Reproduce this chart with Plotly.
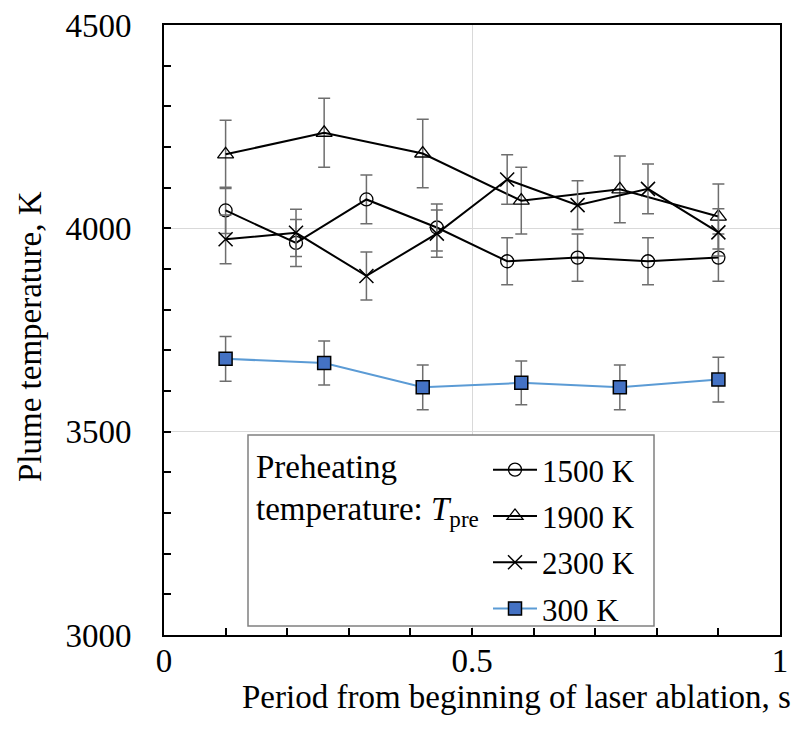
import plotly.graph_objects as go

# ---- data ----
x8 = [0.1, 0.2143, 0.3286, 0.4429, 0.5571, 0.6714, 0.7857, 0.9]
x6 = [0.1, 0.26, 0.42, 0.58, 0.74, 0.9]

t1500 = [4044, 3964, 4071, 4002, 3919, 3928, 3919, 3928]
e1500 = [57, 58, 60, 58, 58, 58, 58, 58]

t1900 = [4182, 4235, 4184, 4068, 4096, 4029]
e1900 = [84, 85, 84, 82, 82, 80]

t2300 = [3973, 3989, 3883, 3987, 4120, 4057, 4097, 3990]
e2300 = [60, 58, 59, 58, 61, 60, 61, 58]

t300 = [3679, 3669, 3609, 3620, 3609, 3628]
e300 = [55, 54, 55, 54, 55, 55]

names = ["1500 K", "1900 K", "2300 K", "300 K"]

FONT = "Liberation Serif"
ERRC = "#6e6e6e"
FS = 33

fig = go.Figure()

def err(e):
    return dict(type="data", array=e, visible=True, color=ERRC, thickness=1.5, width=6)

fig.add_trace(go.Scatter(
    x=x8, y=t1500, name=names[0], mode="lines+markers", legendgroup="a",
    line=dict(color="black", width=2),
    marker=dict(symbol="circle-open", size=13, color="black", line=dict(width=1.3)),
    error_y=err(e1500)))
fig.add_trace(go.Scatter(
    x=x6, y=t1900, name=names[1], mode="lines+markers", legendgroup="b",
    line=dict(color="black", width=2),
    marker=dict(symbol="triangle-up-open", size=14, color="black", line=dict(width=1.3)),
    error_y=err(e1900)))
fig.add_trace(go.Scatter(
    x=x8, y=t2300, name=names[2], mode="lines+markers", legendgroup="c",
    line=dict(color="black", width=2),
    marker=dict(symbol="x-thin-open", size=14, color="black", line=dict(width=1.5)),
    error_y=err(e2300)))
fig.add_trace(go.Scatter(
    x=x6, y=t300, name=names[3], mode="lines+markers", legendgroup="d",
    line=dict(color="#5B9BD5", width=2),
    marker=dict(symbol="square", size=13, color="#4472C4", line=dict(width=1.5, color="black")),
    error_y=err(e300)))

axis_common = dict(
    showline=True, linecolor="black", linewidth=2, mirror=True,
    ticks="inside", ticklen=7, tickwidth=1.5, tickcolor="black",
    showgrid=True, gridcolor="#d9d9d9", gridwidth=1,
    zeroline=False, automargin=False,
    tickfont=dict(family=FONT, size=FS, color="black"),
)

fig.update_xaxes(range=[0, 1], tickvals=[0, 0.5, 1], ticktext=["0", "0.5", "1"],
                 minor=dict(dtick=0.1, tick0=0, ticks="inside", ticklen=7, tickwidth=1.5,
                            tickcolor="black", showgrid=False),
                 ticklabelstandoff=-5, **axis_common)
fig.update_yaxes(range=[3000, 4500], tickvals=[3000, 3500, 4000, 4500],
                 minor=dict(dtick=100, tick0=3000, ticks="inside", ticklen=7, tickwidth=1.5,
                            tickcolor="black", showgrid=False),
                 ticklabelstandoff=24, **axis_common)

# legend frame and title text
fig.add_shape(type="rect", xref="paper", yref="paper",
              x0=(248 - 164) / 616, x1=(654 - 164) / 616,
              y0=(635 - 626) / 610, y1=(635 - 435) / 610,
              line=dict(color="#808080", width=1.5), fillcolor="white", layer="above")

fig.add_annotation(xref="paper", yref="paper", x=(254 - 164) / 616, y=(635 - 467) / 610,
                   xanchor="left", yanchor="middle", showarrow=False,
                   text="Preheating", font=dict(family=FONT, size=FS, color="black"))
fig.add_annotation(xref="paper", yref="paper", x=(254 - 164) / 616, y=(635 - 511) / 610,
                   xanchor="left", yanchor="middle", showarrow=False,
                   text="temperature: <i>T</i><sub>pre</sub>",
                   font=dict(family=FONT, size=FS, color="black"))

# axis titles
fig.add_annotation(xref="paper", yref="paper", x=(516 - 164) / 616, y=(635 - 697) / 610,
                   xanchor="center", yanchor="middle", showarrow=False,
                   text="Period from beginning of laser ablation, s",
                   font=dict(family=FONT, size=FS, color="black"))
fig.add_annotation(xref="paper", yref="paper", x=(30 - 164) / 616, y=(635 - 337) / 610,
                   xanchor="center", yanchor="middle", showarrow=False, textangle=-90,
                   text="Plume temperature, K",
                   font=dict(family=FONT, size=FS, color="black"))

fig.update_layout(
    width=802, height=740,
    margin=dict(l=164, r=22, t=25, b=105),
    paper_bgcolor="white", plot_bgcolor="white",
    showlegend=True,
    legend=dict(x=(488 - 164) / 616, y=(635 - 443) / 610, xanchor="left", yanchor="top",
                bgcolor="rgba(0,0,0,0)", borderwidth=0,
                font=dict(family=FONT, size=31, color="black"),
                traceorder="grouped", tracegroupgap=3, itemwidth=44),
)

fig.write_html("out.html")
